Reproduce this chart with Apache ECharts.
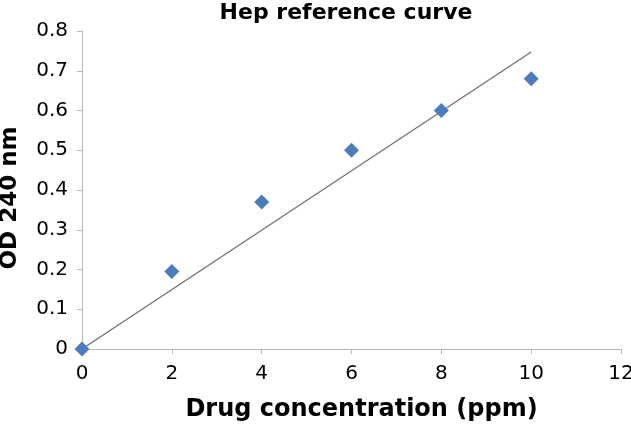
<!DOCTYPE html>
<html><head><meta charset="utf-8">
<script src="https://cdn.jsdelivr.net/npm/echarts@6/dist/echarts.min.js"></script>
<style>html,body{margin:0;padding:0;background:#fff}#c{width:631px;height:425px}</style>
</head><body><div id="c"></div>
<script>
var concentration = [0, 2, 4, 6, 8, 10];
var od240 = [0, 0.195, 0.37, 0.5, 0.6, 0.68];
var trendX = [0, 10];
var trendY = [0, 0.747];
var xTicks = [0, 2, 4, 6, 8, 10, 12];
var yTicks = [0, 0.1, 0.2, 0.3, 0.4, 0.5, 0.6, 0.7, 0.8];

var chart = echarts.init(document.getElementById('c'));
var font = 'DejaVu Sans, sans-serif';
chart.setOption({
  animation: false,
  title: {text: 'Hep reference curve', left: 346, textAlign: 'center', top: 2, padding: 0,
    textStyle: {fontFamily: font, fontSize: 22, fontWeight: 'bold', color: '#000'}},
  grid: {left: 82, right: 10, top: 31, bottom: 76, outerBoundsMode: 'none', containLabel: false},
  xAxis: {type: 'value', min: 0, max: 12, interval: 2,
    name: 'Drug concentration (ppm)', nameLocation: 'middle', nameGap: 49,
    nameTextStyle: {fontFamily: font, fontSize: 24, fontWeight: 'bold', color: '#000', padding: [0, 0, 0, 20]},
    axisLine: {lineStyle: {color: '#b7b7b7', width: 1}},
    axisTick: {show: true, length: 5, lineStyle: {color: '#b7b7b7'}},
    axisLabel: {fontFamily: font, fontSize: 20, color: '#000', margin: 15},
    splitLine: {show: false}},
  yAxis: {type: 'value', min: 0, max: 0.8, interval: 0.1,
    name: 'OD 240 nm', nameLocation: 'middle', nameGap: 60, nameRotate: 90,
    nameTextStyle: {fontFamily: font, fontSize: 23, fontWeight: 'bold', color: '#000', padding: [0, 16, 0, 0]},
    axisLine: {show: true, lineStyle: {color: '#b7b7b7', width: 1}},
    axisTick: {show: true, length: 5, lineStyle: {color: '#b7b7b7'}},
    axisLabel: {fontFamily: font, fontSize: 20, color: '#000', margin: 14,
      formatter: function(v){ return yTicks.indexOf(Math.round(v*10)/10) >= 0 ? String(Math.round(v*10)/10) : ''; }},
    splitLine: {show: false}},
  series: [
    {type: 'line', data: trendX.map(function(x, i){ return [x, trendY[i]]; }),
      showSymbol: false, symbol: 'none', lineStyle: {color: '#6e6e6e', width: 1.2}, z: 2},
    {type: 'scatter', data: concentration.map(function(x, i){ return [x, od240[i]]; }),
      symbol: 'diamond', symbolSize: 15, itemStyle: {color: '#4a7ebb', opacity: 1}, z: 3}
  ]
});
</script></body></html>
